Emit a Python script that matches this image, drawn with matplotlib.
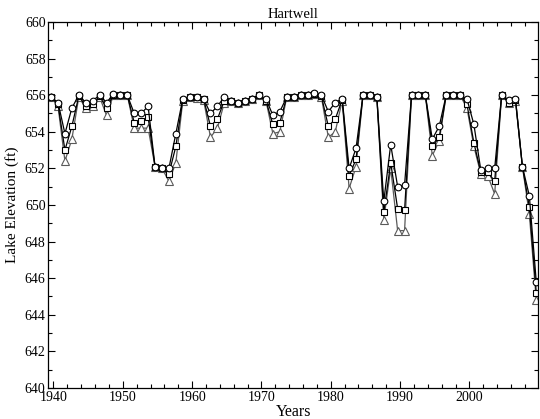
import numpy as np
import matplotlib
matplotlib.use("Agg")
import matplotlib.pyplot as plt
from matplotlib.ticker import MultipleLocator

plt.rcParams['font.family'] = ['Liberation Serif', 'DejaVu Serif']

years = list(range(1939, 2010))

circle = [655.9, 655.6, 653.9, 655.3, 656.0, 655.6, 655.7, 656.0, 655.6, 656.05,
          656.0, 656.0, 655.0, 655.0, 655.4, 652.1, 652.0, 652.0, 653.9, 655.8,
          655.9, 655.9, 655.8, 655.0, 655.4, 655.9, 655.7, 655.6, 655.7, 655.8,
          656.0, 655.8, 654.9, 655.1, 655.9, 655.9, 656.0, 656.0, 656.1, 656.0,
          655.1, 655.6, 655.8, 652.0, 653.1, 656.0, 656.0, 655.9, 650.2, 653.3,
          651.0, 651.1, 656.0, 656.0, 656.0, 653.6, 654.3, 656.0, 656.0, 656.0,
          655.8, 654.4, 651.9, 652.0, 652.0, 656.0, 655.75, 655.8, 652.1, 650.5,
          645.8]
square = [655.9, 655.5, 653.0, 654.3, 655.95, 655.4, 655.5, 655.95, 655.3, 656.0,
          656.0, 656.0, 654.5, 654.6, 654.8, 652.1, 652.0, 651.7, 653.2, 655.75,
          655.9, 655.9, 655.8, 654.3, 654.7, 655.7, 655.7, 655.6, 655.7, 655.8,
          656.0, 655.7, 654.4, 654.5, 655.9, 655.9, 656.0, 656.0, 656.05, 655.95,
          654.3, 654.7, 655.75, 651.6, 652.5, 656.0, 656.0, 655.9, 649.6, 652.3,
          649.8, 649.7, 656.0, 656.0, 656.0, 653.2, 653.7, 656.0, 656.0, 656.0,
          655.5, 653.4, 651.8, 651.8, 651.3, 656.0, 655.6, 655.75, 652.1, 649.9,
          645.2]
triangle = [655.9, 655.4, 652.4, 653.6, 655.9, 655.3, 655.4, 655.9, 654.9, 656.0,
            656.0, 656.0, 654.2, 654.2, 654.2, 652.1, 652.0, 651.3, 652.3, 655.7,
            655.9, 655.85, 655.75, 653.7, 654.2, 655.6, 655.7, 655.6, 655.7, 655.8,
            656.0, 655.7, 653.9, 654.0, 655.9, 655.9, 656.0, 656.0, 656.05, 655.9,
            653.7, 654.0, 655.7, 650.9, 652.1, 656.0, 656.0, 655.9, 649.2, 652.0,
            648.6, 648.6, 656.0, 656.0, 656.0, 652.7, 653.5, 656.0, 656.0, 656.0,
            655.3, 653.2, 651.7, 651.6, 650.6, 656.0, 655.6, 655.7, 652.1, 649.5,
            644.8]

fig = plt.figure(figsize=(5.4, 4.19), dpi=100)
ax = fig.add_axes([48.3/540, 31/419, (538-48.3)/540, 366/419])

x = np.array(years) + 0.65
ax.plot(x, triangle, color='#5a5a5a', lw=0.9, marker='^', ms=5.2, mfc='white',
        mec='#5a5a5a', mew=0.8)
ax.plot(x, square, color='black', lw=0.9, marker='s', ms=4.2, mfc='white',
        mec='black', mew=0.8)
ax.plot(x, circle, color='black', lw=0.9, marker='o', ms=4.8, mfc='white',
        mec='black', mew=0.8)

ax.set_xlim(1939.25, 2009.9)
ax.set_ylim(640, 660)
ax.xaxis.set_major_locator(MultipleLocator(10))
ax.xaxis.set_minor_locator(MultipleLocator(2))
ax.yaxis.set_major_locator(MultipleLocator(2))
ax.yaxis.set_minor_locator(MultipleLocator(1))
ax.tick_params(which='both', direction='in', top=True, right=True,
               labelsize=10, pad=2)
ax.tick_params(which='major', length=5, width=0.8)
ax.tick_params(which='minor', length=3, width=0.8)
for s in ax.spines.values():
    s.set_linewidth(0.9)

ax.set_title('Hartwell', fontsize=10.5, pad=3)
ax.set_xlabel('Years', fontsize=11.5, labelpad=0)
ax.set_ylabel('Lake Elevation (ft)', fontsize=11, labelpad=4)

fig.savefig('out.png', dpi=100)
